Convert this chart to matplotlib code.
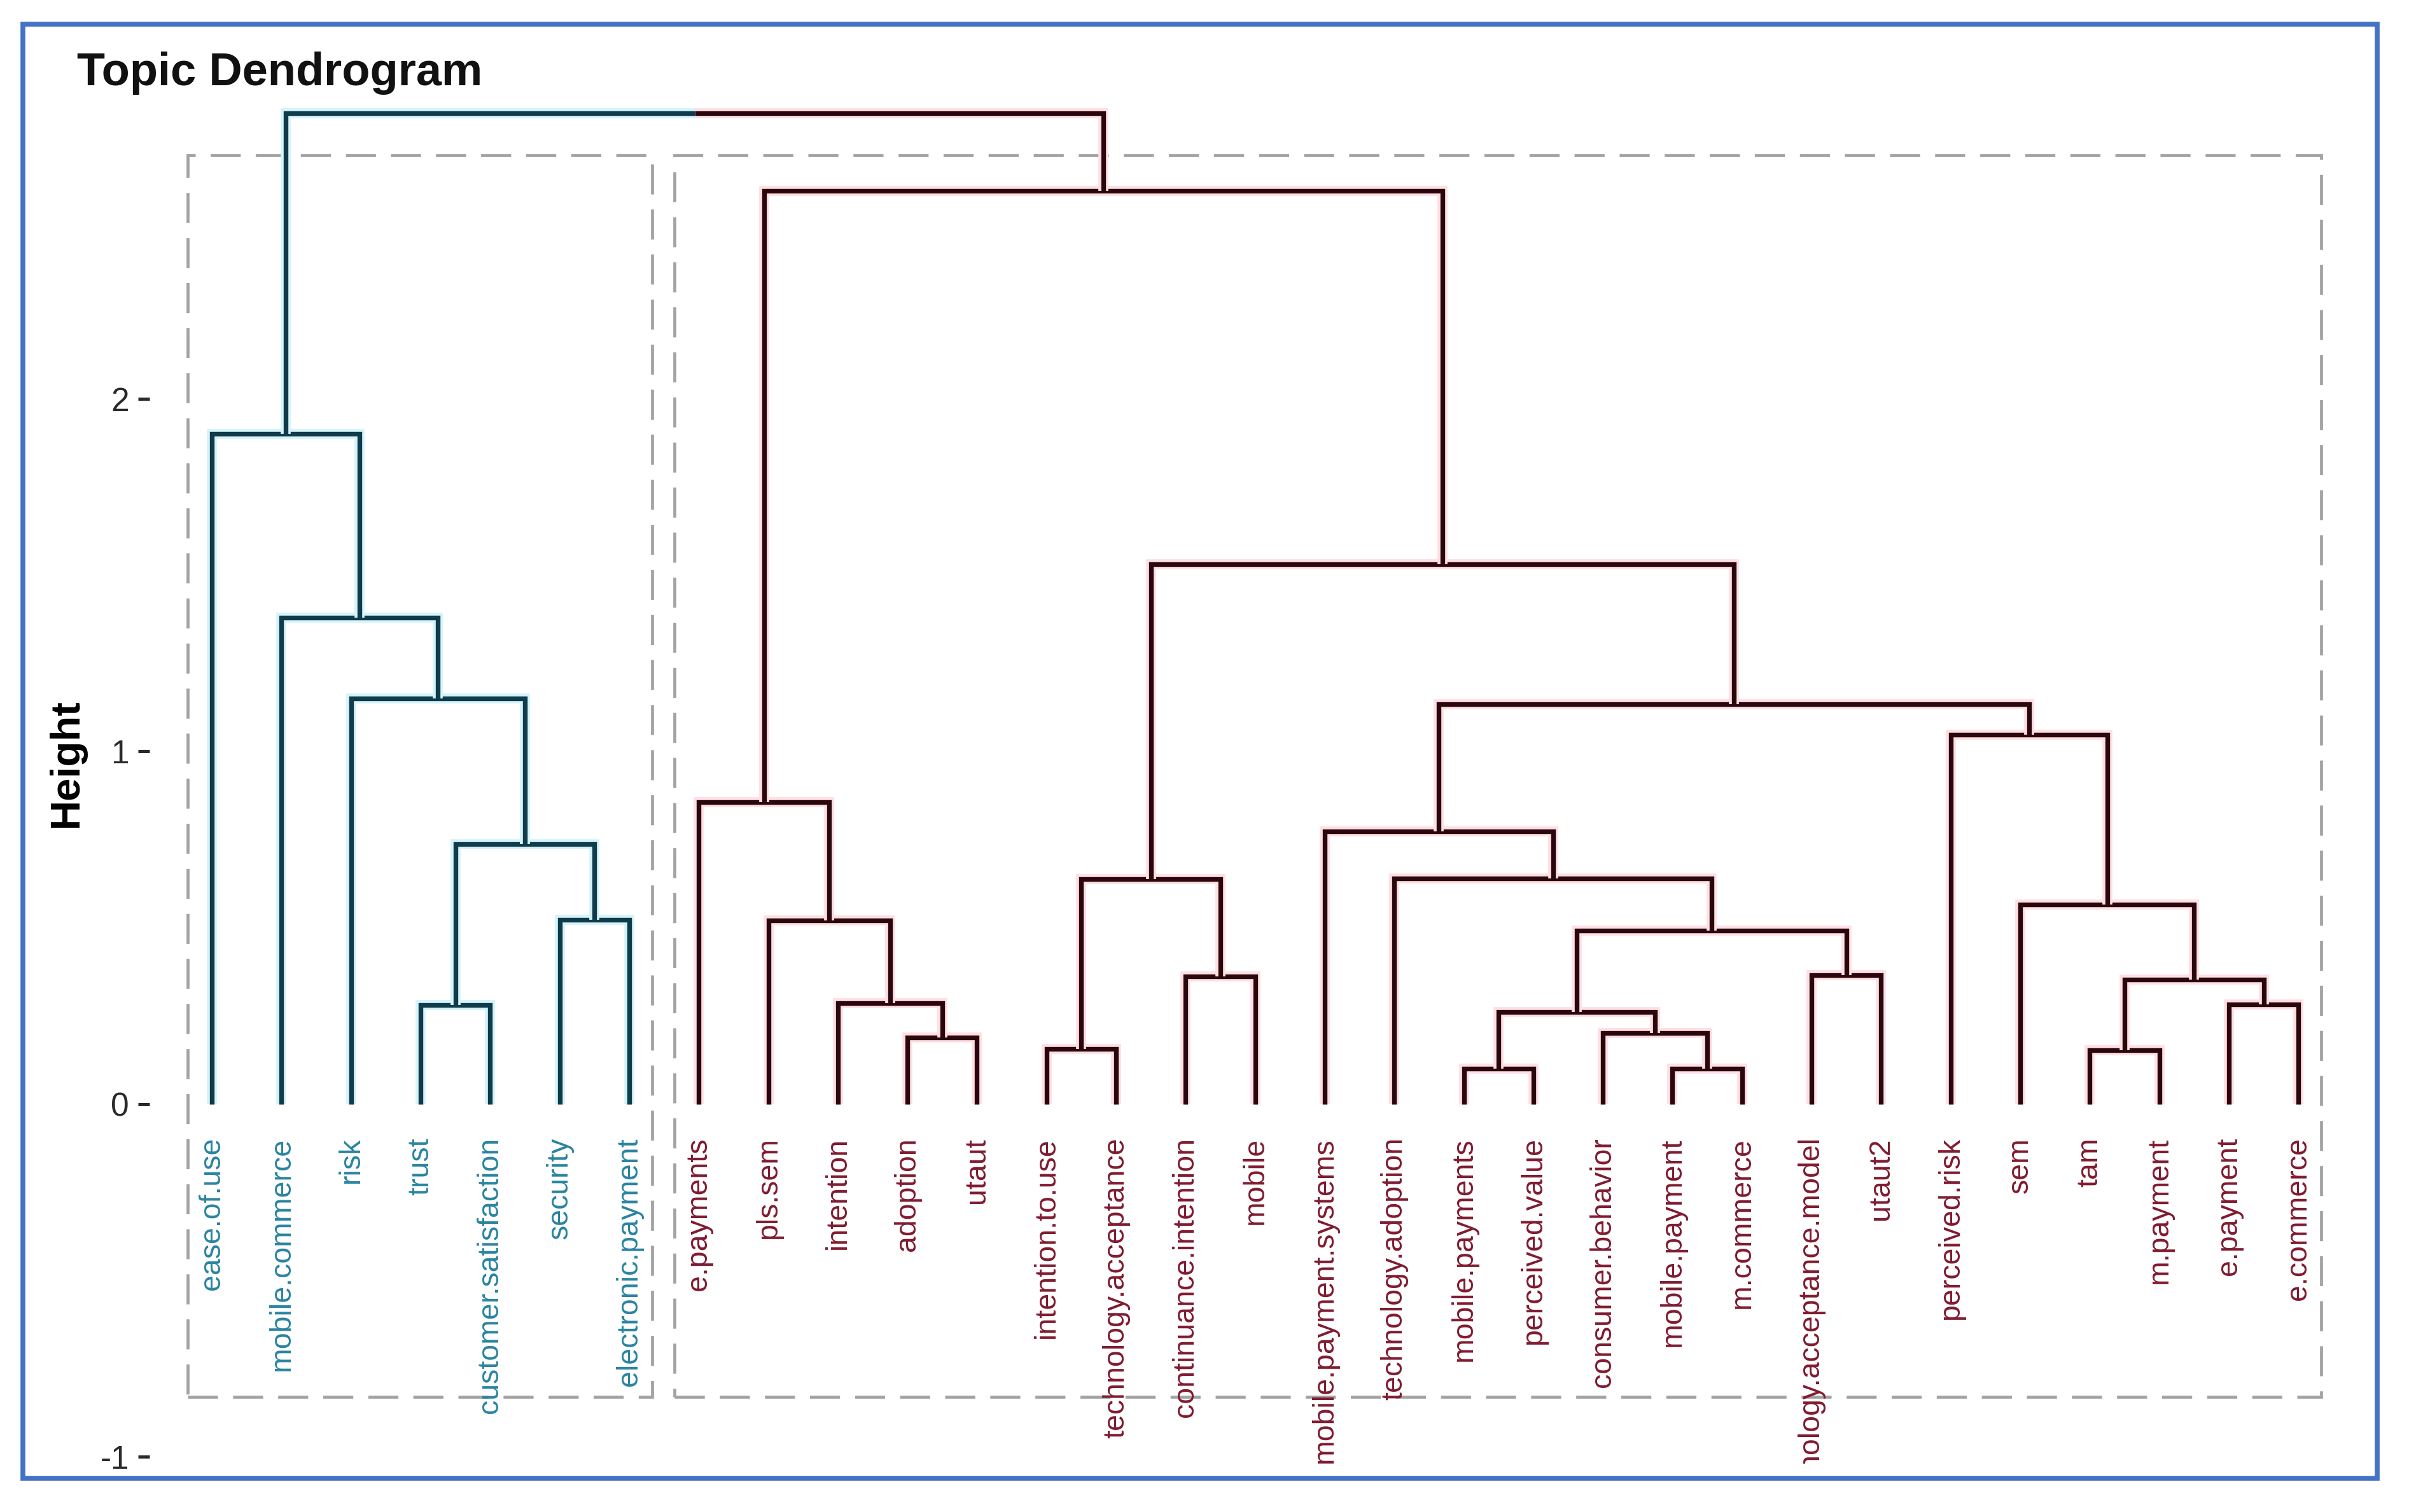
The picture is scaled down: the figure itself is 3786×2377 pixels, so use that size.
"""Topic dendrogram: two clusters of keywords, drawn from merge heights."""
import matplotlib
matplotlib.use('Agg')
import matplotlib.pyplot as plt
import matplotlib.patheffects as pe
from matplotlib.patches import Rectangle

plt.rcParams['font.family'] = ['Liberation Sans', 'DejaVu Sans']

# leaf order as it appears on the x axis
LEAVES = ['ease.of.use', 'mobile.commerce', 'risk', 'trust', 'customer.satisfaction',
          'security', 'electronic.payment', 'e.payments', 'pls.sem', 'intention',
          'adoption', 'utaut', 'intention.to.use', 'technology.acceptance',
          'continuance.intention', 'mobile', 'mobile.payment.systems',
          'technology.adoption', 'mobile.payments', 'perceived.value',
          'consumer.behavior', 'mobile.payment', 'm.commerce',
          'technology.acceptance.model', 'utaut2', 'perceived.risk', 'sem', 'tam',
          'm.payment', 'e.payment', 'e.commerce']
LEAF_CLUSTER = [0] * 7 + [1] * 24

# merges: a child is either a leaf name or the index of an earlier merge
MERGE_LEFT = ['trust', 'security', 0, 'risk', 'mobile.commerce', 'ease.of.use',
              'adoption', 'intention', 'pls.sem', 'e.payments',
              'intention.to.use', 'continuance.intention', 10,
              'mobile.payments', 'mobile.payment', 'consumer.behavior', 13,
              'technology.acceptance.model', 16, 'technology.adoption',
              'mobile.payment.systems', 'tam', 'e.payment', 21, 'sem',
              'perceived.risk', 20, 12, 9, 5]
MERGE_RIGHT = ['customer.satisfaction', 'electronic.payment', 1, 2, 3, 4,
               'utaut', 6, 7, 8,
               'technology.acceptance', 'mobile', 11,
               'perceived.value', 'm.commerce', 14, 15,
               'utaut2', 17, 18,
               19, 'm.payment', 'e.commerce', 22, 23,
               24, 25, 26, 27, 28]
MERGE_HEIGHT = [0.281, 0.523, 0.736, 1.149, 1.379, 1.900,
                0.189, 0.285, 0.520, 0.856,
                0.156, 0.362, 0.638,
                0.100, 0.100, 0.201, 0.261,
                0.365, 0.491, 0.640, 0.773,
                0.152, 0.282, 0.353, 0.566,
                1.047, 1.133, 1.530, 2.590, 2.810]

Y_TICKS = [-1, 0, 1, 2]

LINE_COL = ['#0F3B4A', '#2A070C']
HALO_COL = ['#d4f4fa', '#ffdfe3']
LABEL_COL = ['#2A84A0', '#801B30']

W, H = 3787, 2377
fig = plt.figure(figsize=(W / 100, H / 100), dpi=100)
fig.patch.set_facecolor('white')

# axes placed so that leaf 1 sits at x=333px and height 0 at y=1735px
x0_px, dx_px = 333.2, 109.3
y0_px, dy_px = 1735.5, 554.4
xlim = (0.10, 32.0)
ylim = (-1.02, 2.95)
left = (x0_px + dx_px * (xlim[0] - 1)) / W
right = (x0_px + dx_px * (xlim[1] - 1)) / W
top = 1 - (y0_px - dy_px * ylim[1]) / H
bottom = 1 - (y0_px - dy_px * ylim[0]) / H
ax = fig.add_axes([left, bottom, right - left, top - bottom])
ax.set_xlim(*xlim)
ax.set_ylim(*ylim)

lw = 5.3


def draw(xs, ys, c):
    ax.plot(xs, ys, color=LINE_COL[c], lw=lw, solid_capstyle='butt',
            solid_joinstyle='miter', zorder=3,
            path_effects=[pe.Stroke(linewidth=lw + 6, foreground=HALO_COL[c]),
                          pe.Normal()])


def child(ref, nodes):
    if isinstance(ref, str):
        i = LEAVES.index(ref)
        return (i + 1, 0.0, LEAF_CLUSTER[i])
    return nodes[ref]


nodes = []
for l, r, h in zip(MERGE_LEFT, MERGE_RIGHT, MERGE_HEIGHT):
    xl, hl, cl = child(l, nodes)
    xr, hr, cr = child(r, nodes)
    xm = (xl + xr) / 2
    if cl == cr:
        draw([xl, xl, xr, xr], [hl, h, h, hr], cl)
        nodes.append((xm, h, cl))
    else:
        draw([xl, xl, xm], [hl, h, h], cl)
        draw([xm, xr, xr], [h, h, hr], cr)
        nodes.append((xm, h, None))

# leaf labels (clipped at the panel bottom, like the original)
for i, name in enumerate(LEAVES):
    c = LEAF_CLUSTER[i]
    ax.text(i + 1, -0.095, name, rotation=90, ha='center', va='top',
            fontsize=33.5, color=LABEL_COL[c], zorder=4, clip_on=True)

# dashed cluster boxes
for c in (0, 1):
    idx = [i + 1 for i, k in enumerate(LEAF_CLUSTER) if k == c]
    x_a, x_b = min(idx) - 0.35, max(idx) + 0.33
    ax.add_patch(Rectangle((x_a, -0.83), x_b - x_a, 2.69 + 0.83, fill=False,
                           ec='#a3a3a3', lw=3.4, ls=(0, (10, 5)), zorder=2))

for s in ax.spines.values():
    s.set_visible(False)
ax.set_xticks([])
ax.set_yticks(Y_TICKS)
ax.set_yticklabels([str(t) for t in Y_TICKS])
ax.tick_params(axis='y', length=13, width=3.6, color='#2a2a2a', pad=10,
               labelsize=37, labelcolor='#2a2a2a')
ax.set_facecolor('none')

fig.text(105 / W, 1 - 1200 / H, 'Height', rotation=90, ha='center', va='center',
         fontsize=47, fontweight='bold', color='black')
fig.text(121 / W, 1 - 134 / H, 'Topic Dendrogram', ha='left', va='baseline',
         fontsize=52, fontweight='bold', color='#111111')

# outer blue frame
fig.add_artist(Rectangle((36 / W, 1 - 2324 / H), (3736 - 36) / W, (2324 - 38) / H,
                         transform=fig.transFigure, fill=False, ec='#4472C4',
                         lw=5.5, zorder=10))

fig.savefig('out.png', dpi=100, facecolor='white')
